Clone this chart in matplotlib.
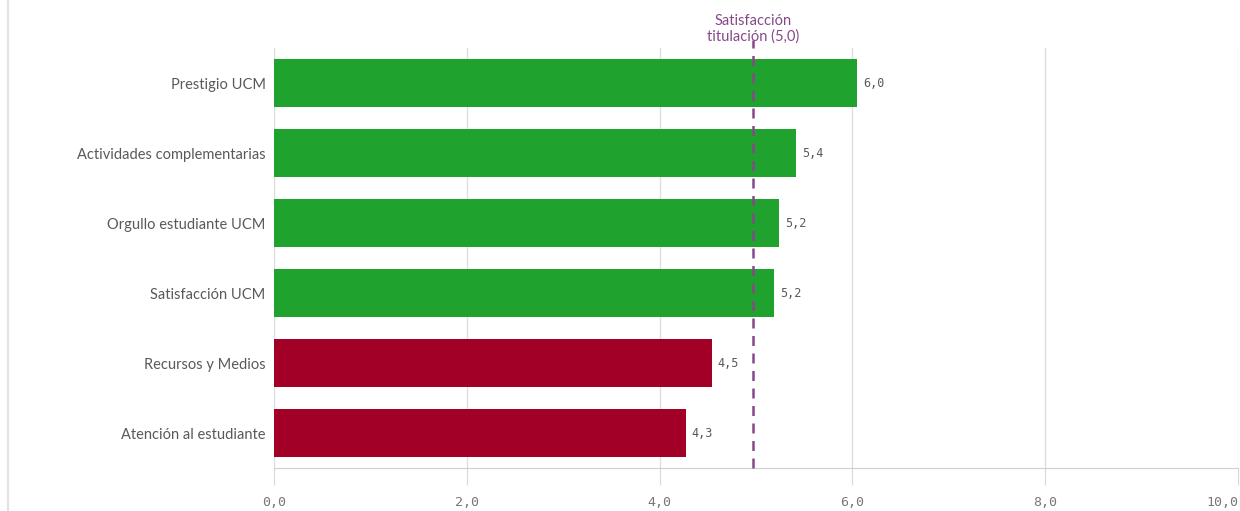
import matplotlib.pyplot as plt
from matplotlib.lines import Line2D

# data
categories = ['Prestigio UCM', 'Actividades complementarias', 'Orgullo estudiante UCM',
              'Satisfacción UCM', 'Recursos y Medios', 'Atención al estudiante']
values = [6.05, 5.42, 5.24, 5.19, 4.54, 4.27]
value_labels = ['6,0', '5,4', '5,2', '5,2', '4,5', '4,3']
reference = 4.97
reference_label = 'Satisfacción\ntitulación (5,0)'
xticks = [0, 2, 4, 6, 8, 10]
xtick_labels = ['0,0', '2,0', '4,0', '6,0', '8,0', '10,0']

green = '#20a22f'
red = '#a30027'
purple = '#85498a'
grey_text = '#595959'

plt.rcParams['font.family'] = ['Lato', 'DejaVu Sans']

fig = plt.figure(figsize=(12.4, 5.11), dpi=100)
ax = fig.add_axes([274 / 1240, 1 - 468 / 511, (1238 - 274) / 1240, 420 / 511])

ypos = list(range(len(categories)))
colors = [green if v >= reference else red for v in values]
ax.barh(ypos, values, height=0.68, color=colors, zorder=2)
ax.set_ylim(len(categories) - 0.5, -0.5)
ax.set_xlim(0, 10)

for y, v, lab in zip(ypos, values, value_labels):
    ax.text(v + 0.06, y, lab, va='center', ha='left', fontsize=8.5, color=grey_text,
            family=['DejaVu Sans Mono'])

ax.set_yticks(ypos)
ax.set_yticklabels(categories, fontsize=10.5, color=grey_text)
ax.tick_params(axis='y', length=0, pad=6)

ax.set_xticks(xticks)
ax.set_xticklabels(xtick_labels, fontsize=9.5, color='#777777', family=['DejaVu Sans Mono'])
ax.tick_params(axis='x', length=12, color='#d9d9d9', pad=8)
ax.get_xticklabels()[-1].set_horizontalalignment('right')

ax.grid(axis='x', color='#dddddd', linewidth=1, zorder=0)
for s in ['top', 'right', 'left']:
    ax.spines[s].set_visible(False)
ax.spines['bottom'].set_color('#d0d0d0')

# reference line
ax.axvline(reference, ymin=0, ymax=1.02, color=purple, linestyle=(0, (4, 3)),
           linewidth=1.8, zorder=3, clip_on=False)
ax.text(reference, -0.56, reference_label, ha='center', va='bottom', fontsize=10.5,
        color=purple, linespacing=1.15)

# left frame line
fig.add_artist(Line2D([8 / 1240, 8 / 1240], [0, 1], color='#e3e3e3', linewidth=1.5))

fig.savefig('out.png', dpi=100)
